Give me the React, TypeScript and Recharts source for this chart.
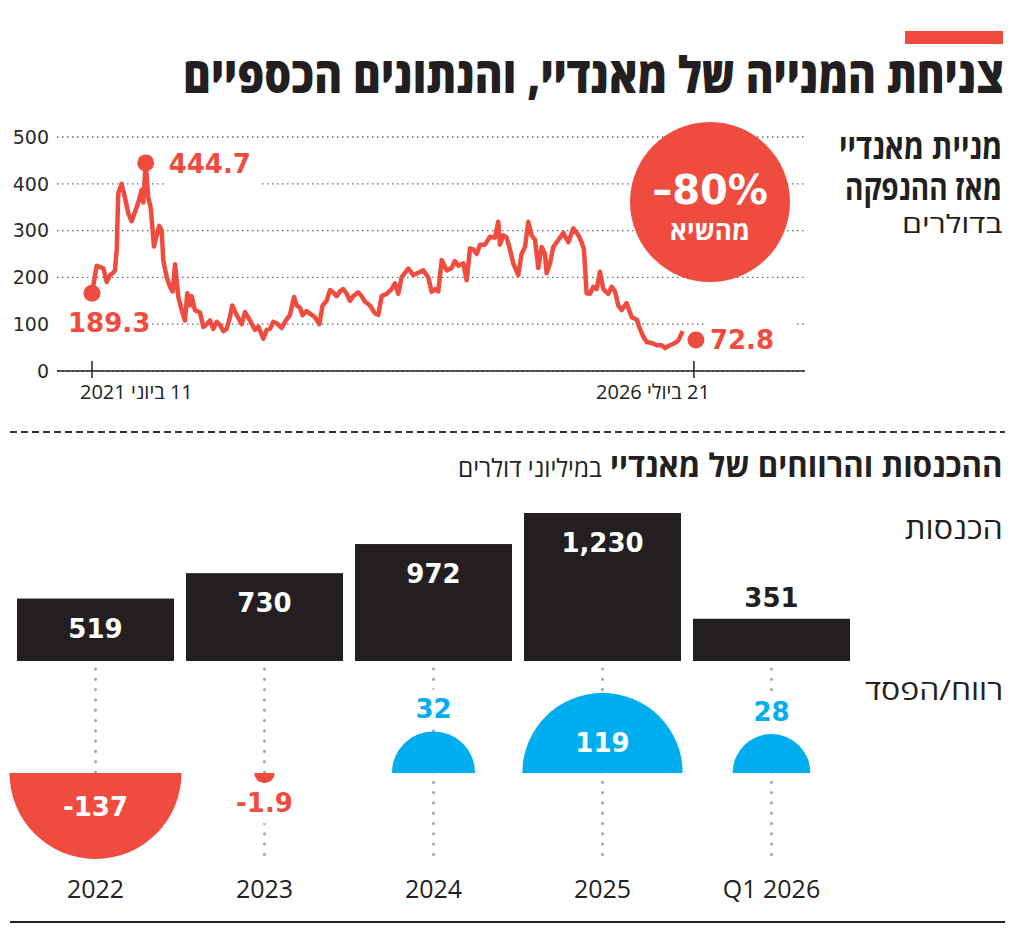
import React, { useLayoutEffect, useRef, useState } from 'react';
import { ComposedChart, Line, Scatter, Bar, XAxis, YAxis, ZAxis, CartesianGrid } from 'recharts';

const RED = '#ef4c3f';
const BLUE = '#00aeef';
const INK = '#231f20';
const HEB = "'Open Sans', 'Liberation Sans', 'DejaVu Sans', sans-serif";
const NUM = "'DejaVu Sans', 'Open Sans', sans-serif";

// ---- Share price (USD); x = decimal year ----
const priceDates = [
  2021.44, 2021.48, 2021.508, 2021.536, 2021.565, 2021.593, 2021.621, 2021.635, 2021.65, 2021.663,
  2021.692, 2021.72, 2021.748, 2021.777, 2021.805, 2021.833, 2021.862, 2021.875, 2021.896, 2021.918,
  2021.938, 2021.955, 2021.966, 2021.989, 2022.011, 2022.032, 2022.045, 2022.074, 2022.102, 2022.125,
  2022.145, 2022.173, 2022.201, 2022.229, 2022.249, 2022.272, 2022.286, 2022.314, 2022.357, 2022.385,
  2022.414, 2022.442, 2022.47, 2022.499, 2022.527, 2022.555, 2022.583, 2022.611, 2022.631, 2022.668,
  2022.711, 2022.739, 2022.781, 2022.824, 2022.852, 2022.894, 2022.923, 2022.951, 2022.979, 2023.008,
  2023.05, 2023.078, 2023.121, 2023.155, 2023.178, 2023.206, 2023.228, 2023.262, 2023.305, 2023.333,
  2023.37, 2023.398, 2023.432, 2023.46, 2023.488, 2023.517, 2023.545, 2023.573, 2023.602, 2023.63,
  2023.658, 2023.701, 2023.729, 2023.758, 2023.8, 2023.842, 2023.871, 2023.899, 2023.942, 2023.984,
  2024.012, 2024.04, 2024.069, 2024.083, 2024.125, 2024.168, 2024.21, 2024.252, 2024.295, 2024.324,
  2024.352, 2024.38, 2024.409, 2024.451, 2024.493, 2024.521, 2024.55, 2024.592, 2024.621, 2024.649,
  2024.677, 2024.706, 2024.734, 2024.776, 2024.819, 2024.861, 2024.889, 2024.903, 2024.932, 2024.96,
  2024.988, 2025.016, 2025.059, 2025.087, 2025.116, 2025.144, 2025.172, 2025.201, 2025.229, 2025.257,
  2025.286, 2025.3, 2025.328, 2025.356, 2025.399, 2025.441, 2025.484, 2025.526, 2025.569, 2025.597,
  2025.616, 2025.639, 2025.668, 2025.696, 2025.724, 2025.752, 2025.781, 2025.823, 2025.852, 2025.88,
  2025.908, 2025.937, 2025.979, 2026.022, 2026.064, 2026.092, 2026.121, 2026.149, 2026.192, 2026.234,
  2026.276, 2026.304, 2026.347, 2026.389, 2026.417, 2026.454,
];
const priceValues = [
  166, 225, 222, 220, 190, 205, 210, 215, 260, 380,
  400, 370, 337, 320, 340, 360, 387, 360, 444.7, 370,
  350, 300, 266, 290, 310, 300, 237, 201, 180, 170,
  228, 158, 130, 108, 166, 140, 160, 130, 125, 94,
  100, 108, 90, 105, 98, 85, 90, 115, 140, 120,
  100, 126, 108, 88, 95, 69, 88, 90, 105, 102,
  92, 105, 120, 158, 140, 135, 119, 128, 120, 115,
  100, 140, 150, 173, 168, 160, 170, 175, 165, 150,
  160, 168, 160, 148, 140, 123, 120, 160, 165, 175,
  187, 165, 200, 205, 219, 205, 210, 215, 200, 169,
  175, 170, 237, 215, 220, 235, 225, 230, 194, 262,
  260, 250, 270, 270, 287, 285, 319, 270, 290, 285,
  260, 230, 205, 250, 265, 319, 290, 280, 220, 265,
  250, 209, 230, 265, 280, 295, 275, 305, 290, 275,
  260, 166, 165, 180, 175, 212, 175, 165, 180, 170,
  140, 130, 145, 115, 110, 90, 73, 62, 60, 55,
  55, 49, 55, 60, 65, 85,
];

// highlighted points
const markDates = [2021.44, 2021.896, 2026.567];
const markValues = [166, 444.7, 66];
const markLabels = ['189.3', '444.7', '72.8'];

const priceTicks = [0, 100, 200, 300, 400, 500];
const dateTicks = [2021.44, 2026.55];
const dateTickLabels = ['11 ביוני 2021', '21 ביולי 2026'];

// ---- Financials, USD millions ----
const periods = ['2022', '2023', '2024', '2025', 'Q1 2026'];
const revenue = [519, 730, 972, 1230, 351];
const profit = [-137, -1.9, 32, 119, 28];

// label placement for highlighted points (style only)
const markPlacement = [
  { tx: -24, ty: 30, bx: -35, by: 16, bw: 91, bh: 28 },
  { tx: 23, ty: 1, bx: 20, by: -14, bw: 96, bh: 40 },
  { tx: 14, ty: 0, bx: 10, by: -22, bw: 88, bh: 38 },
];

const priceData = priceDates.map((t, i) => ({ t, v: priceValues[i] }));
const markData = markDates.map((t, i) => ({ t, v: markValues[i], label: markLabels[i], i }));
const finData = periods.map((p, i) => ({ period: p, revenue: revenue[i], profit: profit[i] }));

function FitText({ children, right, top, width, style }: any) {
  const ref = useRef<HTMLSpanElement>(null);
  const [s, setS] = useState(1);
  useLayoutEffect(() => {
    if (ref.current) {
      const w = ref.current.offsetWidth;
      if (w > 0) setS(width / w);
    }
  }, [width]);
  return (
    <div style={{ position: 'absolute', right, top, direction: 'rtl', whiteSpace: 'nowrap', lineHeight: 1 }}>
      <span
        ref={ref}
        style={{ display: 'inline-block', lineHeight: 1, transform: `scaleX(${s})`, transformOrigin: 'right center', fontFamily: HEB, color: INK, ...style }}
      >
        {children}
      </span>
    </div>
  );
}

const MarkShape = (props: any) => {
  const { cx, cy, payload } = props;
  const p = markPlacement[payload.i];
  return (
    <g>
      <rect x={cx + p.bx} y={cy + p.by} width={p.bw} height={p.bh} fill="#fff" />
      <circle cx={cx} cy={cy} r={8.5} fill={RED} />
      <text
        x={cx + p.tx}
        y={cy + p.ty}
        dominantBaseline="central"
        fontFamily={NUM}
        fontWeight={700}
        fontSize={26}
        fill={RED}
      >
        {payload.label}
      </text>
    </g>
  );
};

const DateTick = (props: any) => {
  const { x, y, index } = props;
  const first = index === 0;
  return (
    <g>
      <line x1={x} x2={x} y1={y - 18} y2={y - 1} stroke="#222" strokeWidth={1.5} />
      <text
        x={first ? x - 12 : x + 16}
        y={y + 20}
        direction="rtl"
        textAnchor={first ? 'end' : 'start'}
        fontFamily={HEB}
        fontSize={20}
        fill="#222"
      >
        {dateTickLabels[index]}
      </text>
    </g>
  );
};

const PeriodTick = (props: any) => {
  const { x, y, payload } = props;
  return (
    <text x={x} y={y + 20} textAnchor="middle" dominantBaseline="central" fontFamily="'Open Sans', sans-serif" fontSize={25} fill="#222">
      {payload.value}
    </text>
  );
};

const RevenueShape = (props: any) => {
  const { x, y, width, height, background, payload } = props;
  const cx = x + width / 2;
  const bottom = y + height;
  const plotBottom = background ? background.y + background.height : bottom + 199;
  const inside = height > 50;
  return (
    <g>
      <line x1={cx} x2={cx} y1={bottom + 8} y2={plotBottom - 2} stroke="#a9a9a9" strokeWidth={3.2} strokeDasharray="0 10.3" strokeLinecap="round" />
      <rect x={x} y={y} width={width} height={height} fill={INK} />
      <text
        x={cx}
        y={inside ? y + 30 : y - 21}
        textAnchor="middle"
        dominantBaseline="central"
        fontFamily={NUM}
        fontWeight={700}
        fontSize={26}
        fill={inside ? '#fff' : INK}
      >
        {payload.revenue.toLocaleString('en-US')}
      </text>
    </g>
  );
};

const ProfitShape = (props: any) => {
  const { cx, cy, width, payload } = props;
  const r = width / 2;
  const v = payload.profit;
  const pos = v >= 0;
  const color = pos ? BLUE : RED;
  const d = `M${cx - r},${cy} A${r},${r} 0 0 ${pos ? 1 : 0} ${cx + r},${cy} Z`;
  const big = Math.abs(v) >= 100;
  let ly: number;
  if (big) ly = pos ? cy - 30 : cy + 34;
  else ly = pos ? cy - r - 22 : cy + r + 20;
  return (
    <g>
      {!big && <rect x={cx - 30} y={ly - 20} width={60} height={40} fill="#fff" />}
      <path d={d} fill={color} />
      <text
        x={cx}
        y={ly}
        textAnchor="middle"
        dominantBaseline="central"
        fontFamily={NUM}
        fontWeight={700}
        fontSize={26}
        fill={big ? '#fff' : color}
      >
        {String(v)}
      </text>
    </g>
  );
};

export default function App() {
  return (
    <div style={{ position: 'absolute', left: 0, top: 0, width: 1024, height: 932, background: '#fff', overflow: 'hidden' }}>
      {/* red tag */}
      <div style={{ position: 'absolute', left: 905, top: 31, width: 98, height: 13, background: RED }} />
      <FitText right={21} top={49} width={820} style={{ fontSize: 50, fontWeight: 800 }}>
        צניחת המנייה של מאנדיי, והנתונים הכספיים
      </FitText>

      <FitText right={22} top={128} width={163} style={{ fontSize: 35, fontWeight: 700 }}>
        מניית מאנדיי
      </FitText>
      <FitText right={22} top={169} width={157} style={{ fontSize: 35, fontWeight: 700 }}>
        מאז ההנפקה
      </FitText>
      <FitText right={22} top={211} width={100} style={{ fontSize: 25, fontWeight: 400 }}>
        בדולרים
      </FitText>

      {/* price chart */}
      <div style={{ position: 'absolute', left: 0, top: 100 }}>
        <ComposedChart width={1024} height={320} margin={{ top: 37, right: 219, bottom: 0, left: 0 }}>
          <CartesianGrid vertical={false} stroke="#666" strokeWidth={1.3} strokeDasharray="1.5 3.5" />
          <XAxis
            type="number"
            dataKey="t"
            domain={[2021.143, 2027.493]}
            allowDataOverflow
            ticks={dateTicks}
            height={49}
            axisLine={{ stroke: '#222', strokeWidth: 1.5 }}
            tickLine={false}
            tick={(p: any) => <DateTick {...p} />}
            interval={0}
          />
          <YAxis
            type="number"
            domain={[0, 500]}
            allowDataOverflow
            ticks={priceTicks}
            width={57}
            axisLine={false}
            tickLine={false}
            tick={{ fontSize: 19, fill: '#2a2a2a', fontFamily: NUM }}
          />
          <Line
            data={priceData}
            dataKey="v"
            type="linear"
            stroke={RED}
            strokeWidth={4.5}
            strokeLinejoin="round"
            dot={false}
            activeDot={false}
            isAnimationActive={false}
          />
          <Scatter data={markData} dataKey="v" shape={MarkShape} isAnimationActive={false} />
        </ComposedChart>
      </div>

      {/* -80% badge */}
      <div style={{ position: 'absolute', left: 630, top: 122, width: 160, height: 160, borderRadius: '50%', background: RED }}>
        <div style={{ position: 'absolute', left: 0, top: 48, width: 160, textAlign: 'center', lineHeight: 1, fontFamily: NUM, fontWeight: 700, fontSize: 40, color: '#fff' }}>
          –80%
        </div>
        <div style={{ position: 'absolute', left: 0, top: 95, width: 160, textAlign: 'center', lineHeight: 1, fontFamily: HEB, fontWeight: 700, fontSize: 26, color: '#fff', direction: 'rtl' }}>
          מהשיא
        </div>
      </div>

      {/* separators */}
      <svg style={{ position: 'absolute', left: 0, top: 0 }} width={1024} height={932}>
        <line x1={10} x2={1005} y1={432} y2={432} stroke="#333" strokeWidth={2} strokeDasharray="7 4" />
        <line x1={10} x2={1005} y1={922} y2={922} stroke="#222" strokeWidth={2} />
      </svg>

      <FitText right={21} top={449} width={545} style={{ fontSize: 32 }}>
        <span style={{ fontWeight: 700 }}>ההכנסות והרווחים של מאנדיי</span>{' '}
        <span style={{ fontWeight: 400, fontSize: 25 }}>במיליוני דולרים</span>
      </FitText>
      <FitText right={21} top={513} width={98} style={{ fontSize: 30, fontWeight: 400 }}>
        הכנסות
      </FitText>
      <FitText right={21} top={675} width={138} style={{ fontSize: 28, fontWeight: 400 }}>
        רווח/הפסד
      </FitText>

      {/* financials chart */}
      <div style={{ position: 'absolute', left: 0, top: 500 }}>
        <ComposedChart width={1024} height={420} data={finData} margin={{ top: 13, right: 168, bottom: 0, left: 11 }}>
          <XAxis dataKey="period" height={60} axisLine={false} tickLine={false} tick={(p: any) => <PeriodTick {...p} />} interval={0} />
          <YAxis yAxisId="rev" hide type="number" domain={[-1654, 1230]} allowDataOverflow />
          <YAxis yAxisId="pl" hide type="number" domain={[-87, 260]} allowDataOverflow />
          <ZAxis dataKey={(d: any) => Math.abs(d.profit)} type="number" domain={[0, 137]} range={[0, 23235]} />
          <Bar yAxisId="rev" dataKey="revenue" barSize={157} shape={RevenueShape} isAnimationActive={false} />
          <Scatter yAxisId="pl" dataKey={() => 0} shape={ProfitShape} isAnimationActive={false} />
        </ComposedChart>
      </div>
    </div>
  );
}
